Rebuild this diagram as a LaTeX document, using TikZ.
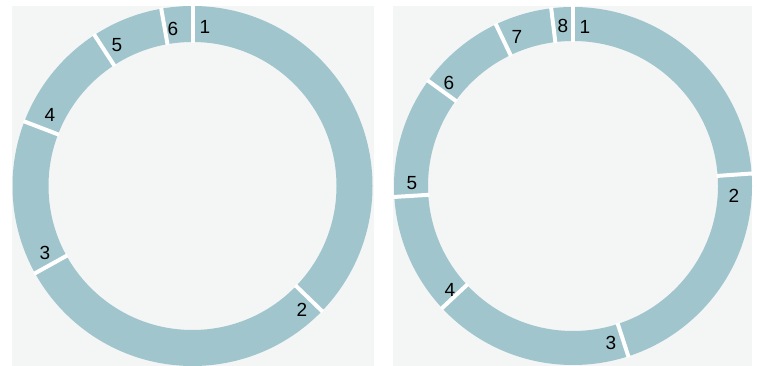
\documentclass[tikz,border=0pt]{standalone}
\usepackage{fontspec}
\setmainfont{Liberation Sans}
\definecolor{ringc}{RGB}{160,197,205}
\definecolor{bgc}{RGB}{244,246,246}
\tikzset{
  ringfill/.style={fill=ringc, even odd rule},
  gapline/.style={draw=white, line width=4pt},
  numlbl/.style={font=\fontsize{19}{19}\selectfont, text=black, inner sep=0pt},
  bgbox/.style={fill=bgc, draw=none}
}
\begin{document}
\begin{tikzpicture}[x=1pt,y=1pt]
\useasboundingbox (0,0) rectangle (762,366);
% backgrounds
\fill[bgbox] (12,0) rectangle (374,360);
\fill[bgbox] (393,0) rectangle (752,360);
% left ring
\coordinate (cl) at (192.5,180);
\fill[ringfill] (cl) circle (180) (cl) circle (144);
\foreach \a in {90,-44,209,159,123,100}
  \draw[gapline] ([shift={(cl)}]\a:143) -- ([shift={(cl)}]\a:181);
% right ring
\coordinate (cr) at (573,180);
\fill[ringfill] (cr) circle (179) (cr) circle (145);
\foreach \a in {90,4,-72,223,183.5,144,115.5,97}
  \draw[gapline] ([shift={(cr)}]\a:144) -- ([shift={(cr)}]\a:180);
% left labels
\node[numlbl] (l1) at (205,339) {1};
\node[numlbl] (l2) at (302,56) {2};
\node[numlbl] (l3) at (45,113) {3};
\node[numlbl] (l4) at (50,251) {4};
\node[numlbl] (l5) at (117,321) {5};
\node[numlbl] (l6) at (173,337) {6};
% right labels
\node[numlbl] (r1) at (585,339) {1};
\node[numlbl] (r2) at (734,170) {2};
\node[numlbl] (r3) at (611,23) {3};
\node[numlbl] (r4) at (450,76) {4};
\node[numlbl] (r5) at (412,183) {5};
\node[numlbl] (r6) at (449,283) {6};
\node[numlbl] (r7) at (517,329) {7};
\node[numlbl] (r8) at (563,340) {8};
\end{tikzpicture}
\end{document}
